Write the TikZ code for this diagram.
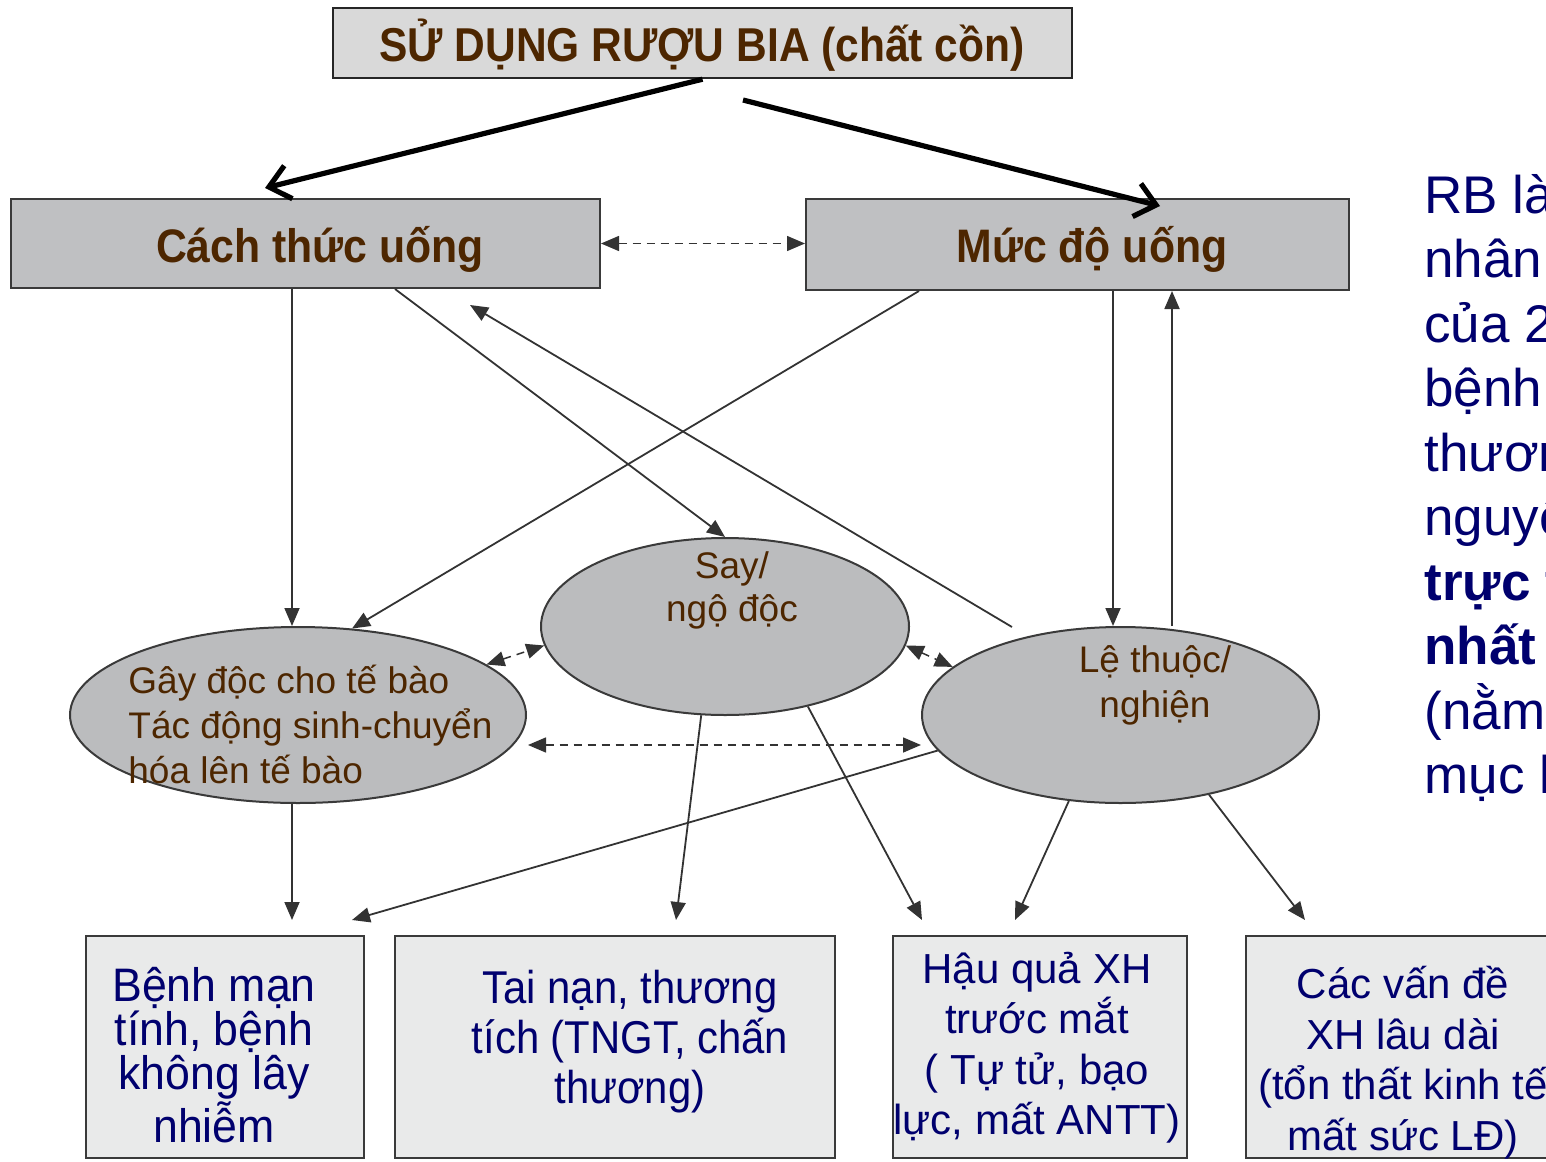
\documentclass[tikz,border=0pt]{standalone}
\usepackage{fontspec}
\setmainfont{Liberation Sans}
\newfontfamily\condsans[FakeStretch=0.91]{Liberation Sans}
\newfontfamily\titlesans[FakeStretch=0.895]{Liberation Sans}
\newfontfamily\boxsans[FakeStretch=0.95]{Liberation Sans}
\usetikzlibrary{arrows.meta,calc,shapes.geometric}
\definecolor{brownt}{HTML}{4D2600}
\definecolor{navyt}{HTML}{00006E}
\definecolor{topfill}{HTML}{D9D9D9}
\definecolor{midfill}{HTML}{BFC0C2}
\definecolor{ellfill}{HTML}{BBBCBE}
\definecolor{lowfill}{HTML}{E9EAEA}
\definecolor{bordc}{HTML}{3A3A3A}
\definecolor{arrc}{HTML}{333333}
\tikzset{
  boxline/.style={draw=bordc, line width=1pt},
  topbox/.style={draw=black!85, line width=1.2pt, fill=topfill, inner sep=0pt},
  midbox/.style={boxline, fill=midfill, inner sep=0pt},
  ellnode/.style={ellipse, boxline, fill=ellfill, inner sep=0pt},
  lowbox/.style={boxline, fill=lowfill, inner sep=0pt},
  headtxt/.style={inner sep=0pt, text=brownt, font=\condsans\bfseries\fontsize{23.5}{28}\selectfont},
  elltxt/.style={inner sep=0pt, text=brownt, font=\fontsize{18.5}{22.5}\selectfont},
  condtxt/.style={inner sep=0pt, text=navyt, align=center},
  regtxt/.style={inner sep=0pt, text=navyt, align=center, font=\fontsize{21}{25.25}\selectfont},
  conn/.style={draw=arrc, line width=0.9pt, -{Triangle[length=9pt,width=7.5pt]}},
  dconn/.style={draw=arrc, line width=0.75pt, dash pattern=on 4pt off 3pt,
     {Triangle[length=9pt,width=7.5pt]}-{Triangle[length=9pt,width=7.5pt]}},
  bigarrow/.style={draw=black, line width=2.6pt, -{Straight Barb[length=10pt,width=17pt]}},
}
\begin{document}
\begin{tikzpicture}[x=0.5pt,y=-0.5pt]
\useasboundingbox (0,0) rectangle (1546,1161);
\clip (0,0) rectangle (1546,1161);

% boxes
\node[topbox, minimum width=369.5pt, minimum height=35pt] (top) at (702.5,43) {};
\node[headtxt, anchor=base, font=\titlesans\bfseries\fontsize{23.75}{28}\selectfont] (toptxt) at (702,62) {SỬ DỤNG RƯỢU BIA (chất cồn)};

\node[midbox, minimum width=294.5pt, minimum height=44.5pt] (cach) at (305.5,243.5) {};
\node[headtxt, anchor=base] (cachtxt) at (320,262) {Cách thức uống};

\node[midbox, minimum width=271.5pt, minimum height=45.5pt] (muc) at (1077.5,244.5) {};
\node[headtxt, anchor=base] (muctxt) at (1092,262) {Mức độ uống};

% ellipses
\node[ellnode, minimum width=228pt, minimum height=88pt] (gay) at (298,715) {};
\node[ellnode, minimum width=184pt, minimum height=88.5pt] (say) at (725,626.5) {};
\node[ellnode, minimum width=198.5pt, minimum height=88pt] (le) at (1120.5,715) {};

% (base anchor = baseline of the last line)
\node[elltxt, anchor=base west, align=left] (gaytxt) at (128,783) {Gây độc cho tế bào\\Tác động sinh-chuyển\\hóa lên tế bào};
\node[elltxt, anchor=base, align=center, font=\fontsize{18.5}{21.5}\selectfont] (saytxt) at (732,621) {Say/\\ngộ độc};
\node[elltxt, anchor=base, align=center] (letxt) at (1155,717) {Lệ thuộc/\\nghiện};

% bottom boxes
\node[lowbox, minimum width=139pt, minimum height=111pt] (b1) at (225,1047) {};
\node[lowbox, minimum width=220pt, minimum height=111pt] (b2) at (615,1047) {};
\node[lowbox, minimum width=147pt, minimum height=111pt] (b3) at (1040,1047) {};
\node[lowbox, minimum width=157pt, minimum height=111pt] (b4) at (1403,1047) {};

\node[condtxt, anchor=base, font=\boxsans\fontsize{23.5}{22}\selectfont] (b1txt) at (214,1142) {Bệnh mạn\\tính, bệnh\\không lây\\nhiễm};
\node[condtxt, anchor=base, font=\condsans\fontsize{23}{25}\selectfont] (b2txt) at (630,1103) {Tai nạn, thương\\tích (TNGT, chấn\\thương)};
\node[regtxt, anchor=base] (b3txt) at (1037,1134.5) {Hậu quả XH\\trước mắt\\( Tự tử, bạo\\lực, mất ANTT)};
\node[regtxt, anchor=base] (b4txt) at (1403,1150) {Các vấn đề\\XH lâu dài\\(tổn thất kinh tế\\mất sức LĐ)};

% right text
\node[inner sep=0pt, anchor=base west, align=left, text=navyt, font=\fontsize{26.5}{32.25}\selectfont] (rb) at (1424,793.5)
  {RB là\\nhân\\của 2\\bệnh\\thương\\nguyên\\\textbf{trực t}\\\textbf{nhất}\\(nằm\\mục l};

% free ends
\coordinate (t1e) at (265,188);
\coordinate (t2s) at (743,100);
\coordinate (t2e) at (1160,206);
\coordinate (r4s) at (1012,627);
\coordinate (r4e) at (470,305);
\coordinate (e1) at (292,920);
\coordinate (e2) at (352,920);
\coordinate (e3) at (676,920);
\coordinate (e4) at (922,920);
\coordinate (e5) at (1015,920);
\coordinate (e6) at (1305,920);
\coordinate (d1) at (528,745);
\coordinate (d2) at (921,745);

% thick arrows
\draw[bigarrow] (top.south) -- (t1e);
\draw[bigarrow] (t2s) -- (t2e);

% dashed double arrows
\draw[dconn] (cach.east) -- (cach.east -| muc.west);
\draw[dconn] (gay.15) -- (say.186);
\draw[dconn] (say.-6) -- (le.164);
\draw[dconn] (d1) -- (d2);

% solid connectors
\draw[conn] ([xshift=-3pt]gay.north |- cach.south) -- ([xshift=-3pt]gay.north);
\draw[conn] ([xshift=57pt]muc.south west) -- (gay.58);
\draw[conn] ([xshift=44.75pt]cach.south) -- (say.north);
\draw[conn] (r4s) -- (r4e);
\draw[conn] ([xshift=-3.75pt]le.north |- muc.south) -- ([xshift=-3.75pt]le.north);
\draw[conn] ([xshift=25.75pt]le.north) -- ([xshift=25.75pt]le.north |- muc.south);
\draw[conn] (gay.south -| e1) -- (e1);
\draw[conn] (le.191) -- (e2);
\draw[conn] (say.255) -- (e3);
\draw[conn] (say.-44) -- (e4);
\draw[conn] (le.239) -- (e5);
\draw[conn] (le.-42) -- (e6);
\end{tikzpicture}
\end{document}
